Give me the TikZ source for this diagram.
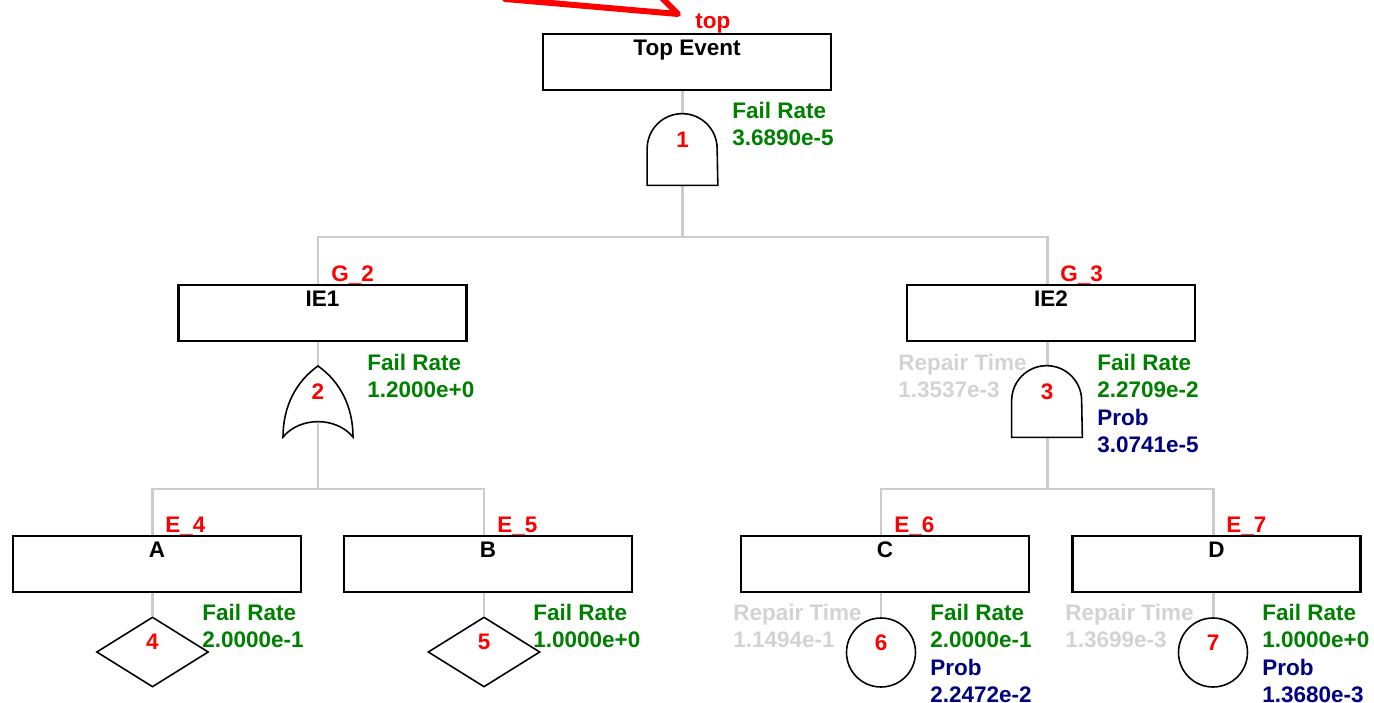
\documentclass[tikz,border=0pt]{standalone}
\usepackage{fontspec}
\setmainfont{Liberation Sans}
\usetikzlibrary{shapes.geometric,backgrounds,positioning}
\definecolor{failc}{HTML}{008000}
\definecolor{probc}{HTML}{000080}
\definecolor{repc}{HTML}{D3D3D3}
\definecolor{wire}{HTML}{CCCCCC}
\newcommand{\ftfont}{\bfseries\fontsize{12.8}{15.5}\selectfont}

\tikzset{
  evbox/.style={draw, line width=1.2pt, fill=white, minimum width=5.76cm,
    minimum height=1.12cm, inner sep=0pt},
  evtxt/.style={anchor=base, inner sep=0pt, font=\ftfont},
  gatebox/.style={minimum width=1.4cm, minimum height=1.42cm, inner sep=0pt},
  gateline/.style={draw, line width=0.9pt, fill=white},
  basicev/.style={draw, line width=0.9pt, fill=white, inner sep=0pt},
  num/.style={anchor=base, inner sep=0pt, text=red, font=\ftfont},
  tag/.style={anchor=base west, inner sep=0pt, text=red, font=\ftfont},
  rate/.style={anchor=north west, align=left, inner sep=0pt, text=failc, font=\ftfont},
  repair/.style={rate, text=repc},
  wirel/.style={wire, line width=1.7pt},
}

\begin{document}
\begin{tikzpicture}[x=0.02cm, y=-0.02cm]
\useasboundingbox (0,0) rectangle (1374,703);
\clip (0,0) rectangle (1374,703);

% top event and its gate
\node[evbox] (top) at (687,62) {};
\node[evtxt] (topT) at ([yshift=-0.46cm]top.north) {Top Event};
\node[tag] (topL) at (695,29) {top};
\coordinate (ptip) at (678,14);
\draw[red, line width=3.4pt, line cap=round, line join=round] (505,-1) -- (ptip) -- (660,-4);

\node[gatebox] (g1) at (682.5,149.5) {};
\draw[gateline] (g1.south west) -- ([yshift=-0.7cm]g1.north west)
  arc[start angle=180, end angle=0, radius=0.7cm] -- (g1.south east) -- cycle;
\node[num] (n1) at ([yshift=0.04cm]g1.center) {1};
\node[rate] (r1) at (732,102) {Fail Rate\\3.6890e-5};
\coordinate (j1) at (682.5,237);

% intermediate events
\node[evbox] (ie1) at (322.5,313) {};
\node[evtxt] (ie1T) at ([yshift=-0.46cm]ie1.north) {IE1};
\node[tag] (ie1L) at (331,281) {G\_2};
\node[evbox] (ie2) at (1051,313) {};
\node[evtxt] (ie2T) at ([yshift=-0.46cm]ie2.north) {IE2};
\node[tag] (ie2L) at (1060,281) {G\_3};

% OR gate under IE1
\node[gatebox] (g2) at (318,401.5) {};
\draw[gateline, shift={(g2.center)}] (-35,35.5) .. controls (-35,5) and (-22,-20) .. (0,-35.5)
  .. controls (22,-20) and (35,5) .. (35,35.5)
  .. controls (18,15) and (-18,15) .. cycle;
\node[num] (n2) at ([yshift=0.04cm]g2.center) {2};
\node[rate] (r2) at (367,354) {Fail Rate\\1.2000e+0};
\coordinate (j2) at (318,489);

% AND gate under IE2
\node[gatebox] (g3) at (1047,401.5) {};
\draw[gateline] (g3.south west) -- ([yshift=-0.7cm]g3.north west)
  arc[start angle=180, end angle=0, radius=0.7cm] -- (g3.south east) -- cycle;
\node[num] (n3) at ([yshift=0.04cm]g3.center) {3};
\node[repair] (p3) at (898,354) {Repair Time\\1.3537e-3};
\node[rate] (r3) at (1097,354) {Fail Rate\\2.2709e-2\\\textcolor{probc}{Prob}\\\textcolor{probc}{3.0741e-5}};
\coordinate (j3) at (1047,489);

% basic events
\node[evbox] (a) at (157,564) {};
\node[evtxt] (aT) at ([yshift=-0.46cm]a.north) {A};
\node[tag] (aL) at (165,532) {E\_4};
\node[basicev, diamond, minimum width=2.24cm, minimum height=1.4cm] (e4) at (152.5,652) {};
\node[num] (n4) at ([yshift=0.06cm]e4.center) {4};
\node[rate] (r4) at (202,604) {Fail Rate\\2.0000e-1};

\node[evbox] (b) at (488,564) {};
\node[evtxt] (bT) at ([yshift=-0.46cm]b.north) {B};
\node[tag] (bL) at (497,532) {E\_5};
\node[basicev, diamond, minimum width=2.24cm, minimum height=1.4cm] (e5) at (484,652) {};
\node[num] (n5) at ([yshift=0.06cm]e5.center) {5};
\node[rate] (r5) at (533,604) {Fail Rate\\1.0000e+0};

\node[evbox] (c) at (885,564) {};
\node[evtxt] (cT) at ([yshift=-0.46cm]c.north) {C};
\node[tag] (cL) at (894,532) {E\_6};
\node[basicev, circle, minimum size=1.38cm] (e6) at (881,652.5) {};
\node[num] (n6) at ([yshift=0.05cm]e6.center) {6};
\node[repair] (p6) at (733,604) {Repair Time\\1.1494e-1};
\node[rate] (r6) at (930,604) {Fail Rate\\2.0000e-1\\\textcolor{probc}{Prob}\\\textcolor{probc}{2.2472e-2}};

\node[evbox] (d) at (1216.5,564) {};
\node[evtxt] (dT) at ([yshift=-0.46cm]d.north) {D};
\node[tag] (dL) at (1226,532) {E\_7};
\node[basicev, circle, minimum size=1.38cm] (e7) at (1213,652.5) {};
\node[num] (n7) at ([yshift=0.05cm]e7.center) {7};
\node[repair] (p7) at (1065,604) {Repair Time\\1.3699e-3};
\node[rate] (r7) at (1262,604) {Fail Rate\\1.0000e+0\\\textcolor{probc}{Prob}\\\textcolor{probc}{1.3680e-3}};

% connectors
\begin{scope}[on background layer]
\draw[wirel] (top.south -| g1) -- (j1);
\draw[wirel] (g2 |- ie1.north) |- (j1) -| (g3 |- ie2.north);
\draw[wirel] (ie1.south -| g2) -- (j2);
\draw[wirel] (e4 |- a.north) |- (j2) -| (e5 |- b.north);
\draw[wirel] (ie2.south -| g3) -- (j3);
\draw[wirel] (e6 |- c.north) |- (j3) -| (e7 |- d.north);
\draw[wirel] (a.south -| e4) -- (e4.north);
\draw[wirel] (b.south -| e5) -- (e5.north);
\draw[wirel] (c.south -| e6) -- (e6.north);
\draw[wirel] (d.south -| e7) -- (e7.north);
\end{scope}
\end{tikzpicture}
\end{document}
